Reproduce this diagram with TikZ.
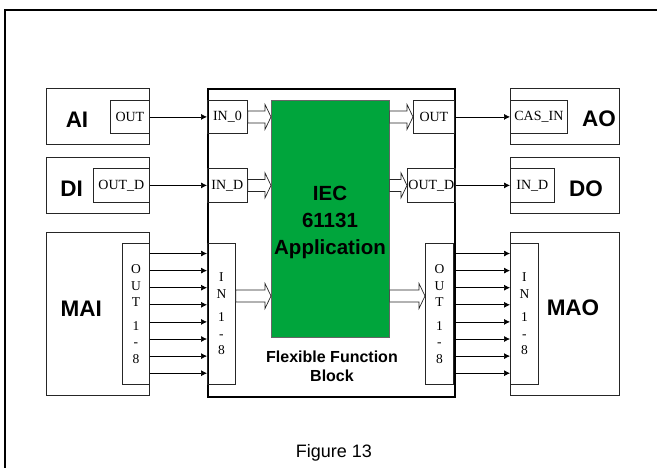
\documentclass[tikz,border=0pt]{standalone}
\usepackage{fontspec}
\setmainfont{Liberation Serif}
\newfontfamily\helv{Liberation Sans}
\usetikzlibrary{arrows.meta,calc}
\definecolor{iecgreen}{RGB}{0,165,60}

\tikzset{
  fbbox/.style={draw=black!85, line width=0.9pt, anchor=north west, inner sep=0pt},
  portbox/.style={draw=black!85, line width=0.8pt, anchor=north west, inner sep=1pt,
    font=\fontsize{14}{16}\selectfont},
  busbox/.style={portbox, align=center, font=\fontsize{13.5}{16.5}\selectfont},
  bigname/.style={font=\helv\bfseries\fontsize{22.5}{26}\selectfont, inner sep=0pt},
  sig/.style={-{Latex[length=6pt,width=6pt]}, line width=0.7pt},
  fatarrow/.style={draw=black!85, fill=white, line width=0.7pt},
}
\newcommand{\hollowarrow}[2]{%
  \draw[fatarrow] let \p1=(#1), \p2=(#2) in
    (\x1,\y1+6pt) -- (\x2-6pt,\y1+6pt) -- (\x2-6pt,\y1+12.5pt) -- (\x2,\y1)
    -- (\x2-6pt,\y1-12.5pt) -- (\x2-6pt,\y1-6pt) -- (\x1,\y1-6pt) -- cycle;}

\begin{document}
\begin{tikzpicture}[x=1pt, y=-1pt]
    \useasboundingbox (0,0) rectangle (657,467);
    \draw[line width=2.6pt] (5,470) -- (5,10) -- (660,10);
    % input blocks
    \node[fbbox, minimum width=103pt, minimum height=56pt] (ai) at (46,88) {};
    \node[portbox, minimum width=39pt, minimum height=33pt] (aiout) at (110,100) {OUT};
    \node[bigname] (ailbl) at (77,120) {AI};
    \node[fbbox, minimum width=103pt, minimum height=56pt] (di) at (46,157) {};
    \node[portbox, minimum width=56pt, minimum height=34pt] (diout) at (93,168) {OUT\_D};
    \node[bigname] (dilbl) at (71.7,188.5) {DI};
    \node[fbbox, minimum width=103pt, minimum height=163pt] (mai) at (46,232) {};
    \node[busbox, minimum width=27pt, minimum height=141pt] (maiout) at (122,243) {O\\U\\T\\[7pt]1\\-\\8};
    \node[bigname] (mailbl) at (81.3,309) {MAI};
    % flexible function block
    \node[fbbox, draw=black, line width=2.2pt, minimum width=247pt, minimum height=308pt] (ffb) at (207,88) {};
    \node[portbox, minimum width=40pt, minimum height=33pt] (in0) at (207,100) {IN\_0};
    \node[portbox, minimum width=40pt, minimum height=34pt] (ind) at (207,168) {IN\_D};
    \node[busbox, minimum width=28pt, minimum height=141pt] (in18) at (207,243) {I\\N\\[7pt]1\\-\\8};
    \node[portbox, minimum width=41pt, minimum height=33pt] (out0) at (413,100) {OUT};
    \node[portbox, minimum width=47pt, minimum height=34pt] (outd) at (407,168) {OUT\_D};
    \node[busbox, minimum width=28pt, minimum height=141pt] (out18) at (425,243) {O\\U\\T\\[7pt]1\\-\\8};
    \node[fbbox, draw=black!60, line width=0.6pt, fill=iecgreen, minimum width=118pt, minimum height=237pt] (iec) at (271,100) {};
    \node[align=center, inner sep=0pt, font=\helv\bfseries\fontsize{20.5}{27}\selectfont] (iectext) at (330,222.5) {IEC\\61131\\Application};
    \node[align=center, inner sep=0pt, font=\helv\bfseries\fontsize{16}{19}\selectfont] (ffblbl) at (332,366) {Flexible Function\\Block};
    % output blocks
    \node[fbbox, minimum width=109pt, minimum height=56pt] (ao) at (510,88) {};
    \node[portbox, minimum width=57pt, minimum height=33pt] (casin) at (510,100) {CAS\_IN};
    \node[bigname] (aolbl) at (599,118.3) {AO};
    \node[fbbox, minimum width=109pt, minimum height=56pt] (do) at (510,157) {};
    \node[portbox, minimum width=44pt, minimum height=34pt] (doin) at (510,168) {IN\_D};
    \node[bigname] (dolbl) at (586,189) {DO};
    \node[fbbox, minimum width=109pt, minimum height=163pt] (mao) at (510,232) {};
    \node[busbox, minimum width=28pt, minimum height=141pt] (maoin) at (510,243) {I\\N\\[7pt]1\\-\\8};
    \node[bigname] (maolbl) at (573,308) {MAO};
    \node[inner sep=0pt, font=\helv\fontsize{18}{20}\selectfont] (caption) at (334,453) {Figure 13};
    % signals
    \draw[sig] (aiout.east) -- (in0.west);
    \draw[sig] (diout.east) -- (ind.west);
    \draw[sig] (out0.east) -- (casin.west);
    \draw[sig] (outd.east) -- (doin.west);
    \foreach \i in {0,...,7} {
      \coordinate (row\i) at (0,253.5+17.1*\i);
      \draw[sig] (maiout.east |- row\i) -- (in18.west |- row\i);
      \draw[sig] (out18.east |- row\i) -- (maoin.west |- row\i);
    }
    \coordinate (busrow) at (0,296);
    \hollowarrow{in0.east}{iec.west |- in0.east}
    \hollowarrow{ind.east}{iec.west |- ind.east}
    \hollowarrow{in18.east |- busrow}{iec.west |- busrow}
    \hollowarrow{iec.east |- out0.west}{out0.west}
    \hollowarrow{iec.east |- outd.west}{outd.west}
    \hollowarrow{iec.east |- busrow}{out18.west |- busrow}
\end{tikzpicture}
\end{document}
